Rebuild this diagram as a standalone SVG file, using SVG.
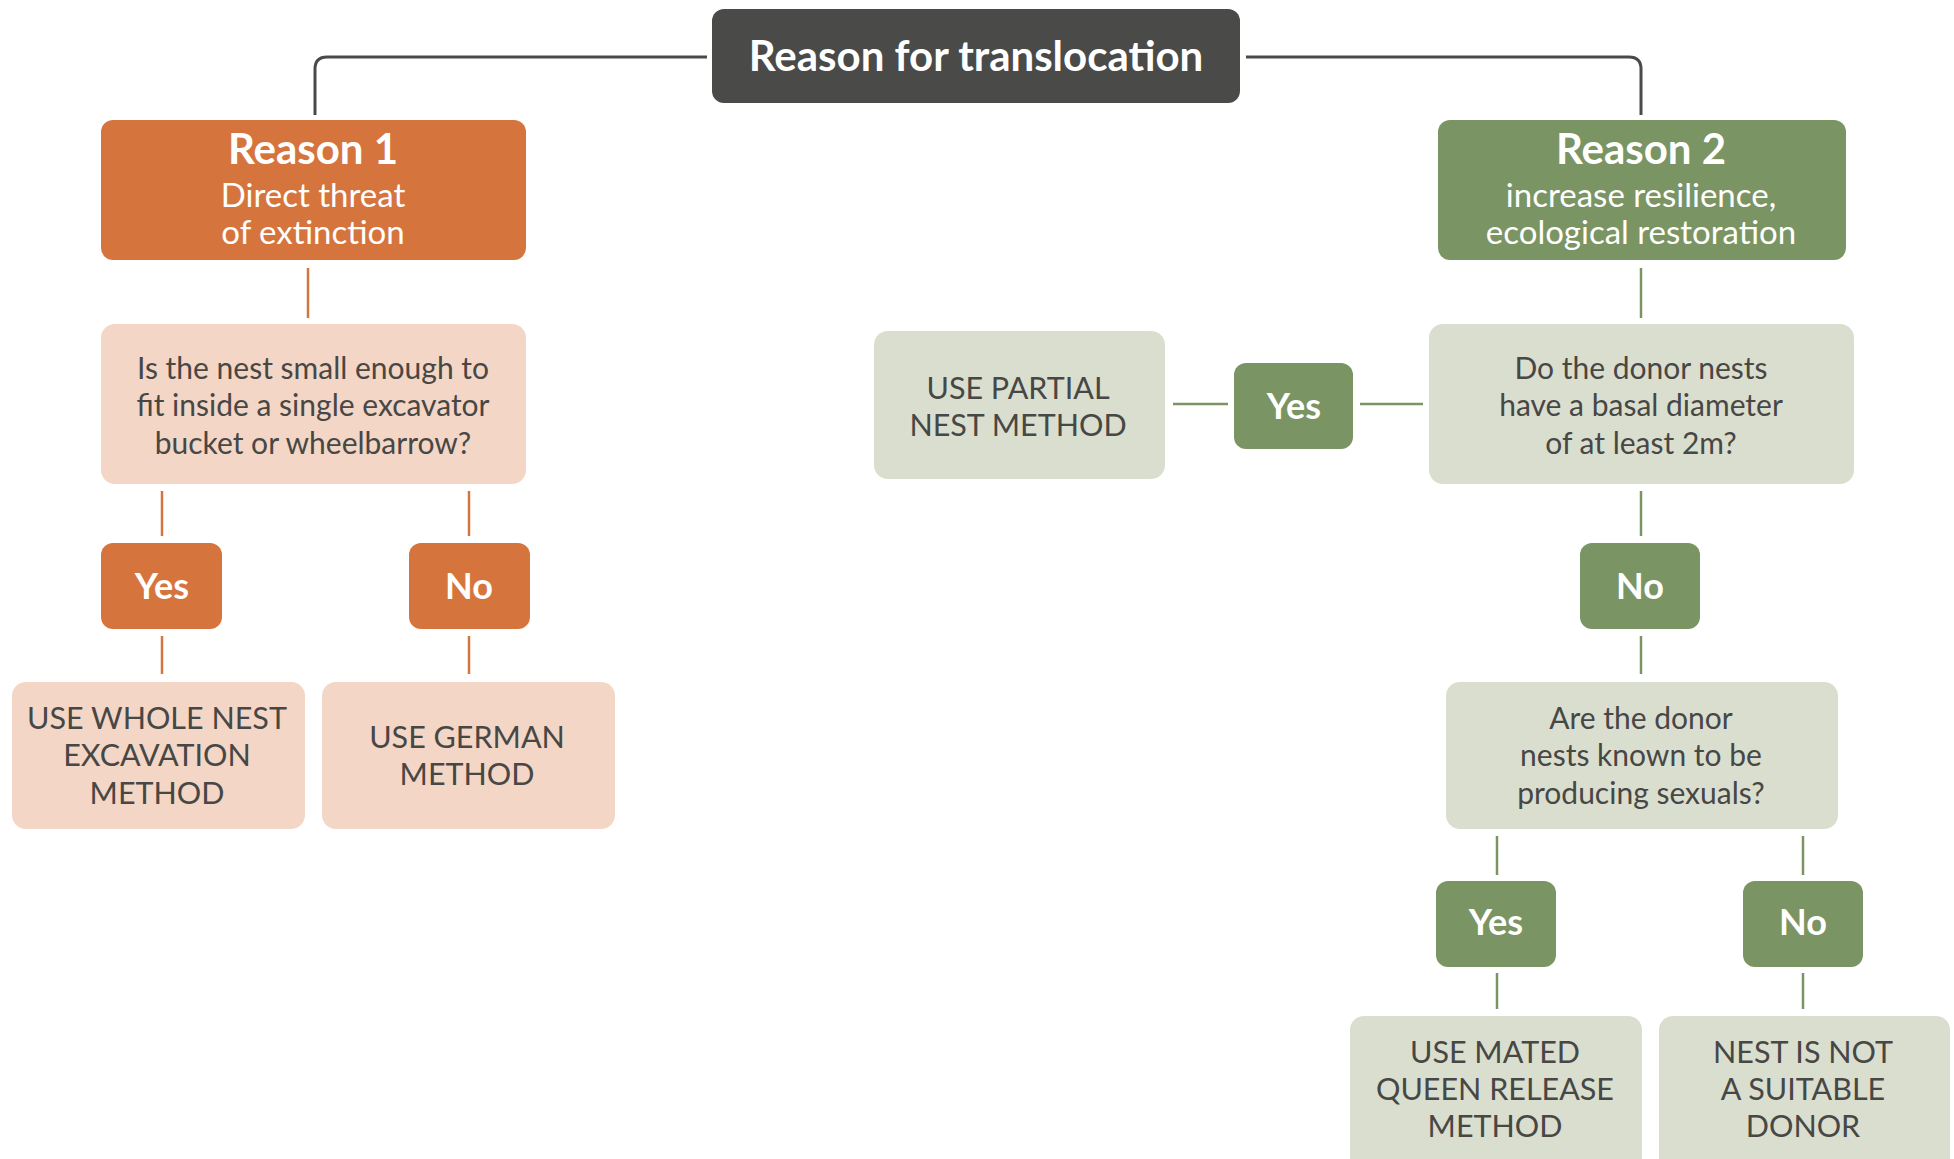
<svg xmlns="http://www.w3.org/2000/svg" width="1954" height="1159" viewBox="0 0 1954 1159">
<style>
text{font-family:Lato,"Open Sans","Liberation Sans",sans-serif;text-anchor:middle}
.w{fill:#ffffff}
.d{fill:#474745}
.b{font-weight:bold}
.root{fill:#4a4a48}
.or{fill:#d6743e}
.lo{fill:#f3d6c5}
.gr{fill:#7b9463}
.lg{fill:#dadecf}
.cd{stroke:#4a4a48;stroke-width:3;fill:none}
.co{stroke:#d6743e;stroke-width:2.5;fill:none}
.cg{stroke:#7b9463;stroke-width:2.5;fill:none}
.t1{font-size:42px}
.t2{font-size:42px}
.t3{font-size:33px}
.q{font-size:30px}
.u{font-size:30.5px}
.y{font-size:36px}
</style>
<g id="connectors">
<path class="cd" d="M707,57 H327 Q315,57 315,69 V115"/>
<path class="cd" d="M1246,57 H1629 Q1641,57 1641,69 V115"/>
<path class="co" d="M308,268 V318"/>
<path class="co" d="M162,491 V536"/>
<path class="co" d="M469,491 V536"/>
<path class="co" d="M162,636 V674"/>
<path class="co" d="M469,636 V674"/>
<path class="cg" d="M1641,268 V318"/>
<path class="cg" d="M1360,404 H1423"/>
<path class="cg" d="M1173,404 H1228"/>
<path class="cg" d="M1641,491 V536"/>
<path class="cg" d="M1641,636 V674"/>
<path class="cg" d="M1497,836 V875"/>
<path class="cg" d="M1803,836 V875"/>
<path class="cg" d="M1497,973 V1009"/>
<path class="cg" d="M1803,973 V1009"/>
</g>
<g id="root">
<rect class="root" x="712" y="9" width="528" height="94" rx="12"/>
<text class="w b t1" x="976" y="71">Reason for translocation</text>
</g>
<g id="reason1">
<rect class="or" x="101" y="120" width="425" height="140" rx="12"/>
<text class="w b t2" x="313" y="164">Reason 1</text>
<text class="w t3" x="313" y="207">Direct threat</text>
<text class="w t3" x="313" y="244">of extinction</text>
</g>
<g id="reason2">
<rect class="gr" x="1438" y="120" width="408" height="140" rx="12"/>
<text class="w b t2" x="1641" y="164">Reason 2</text>
<text class="w t3" x="1641" y="207">increase resilience,</text>
<text class="w t3" x="1641" y="244">ecological restoration</text>
</g>
<g id="q1">
<rect class="lo" x="101" y="324" width="425" height="160" rx="14"/>
<text class="d q" x="313" y="379">Is the nest small enough to</text>
<text class="d q" x="313" y="416">fit inside a single excavator</text>
<text class="d q" x="313" y="454">bucket or wheelbarrow?</text>
</g>
<g id="q1yes">
<rect class="or" x="101" y="543" width="121" height="86" rx="12"/>
<text class="w b y" x="162" y="599">Yes</text>
</g>
<g id="q1no">
<rect class="or" x="409" y="543" width="121" height="86" rx="12"/>
<text class="w b y" x="469" y="599">No</text>
</g>
<g id="wholenest">
<rect class="lo" x="12" y="682" width="293" height="147" rx="14"/>
<text class="d u" x="157" y="729">USE WHOLE NEST</text>
<text class="d u" x="157" y="766">EXCAVATION</text>
<text class="d u" x="157" y="804">METHOD</text>
</g>
<g id="german">
<rect class="lo" x="322" y="682" width="293" height="147" rx="14"/>
<text class="d u" x="467" y="748">USE GERMAN</text>
<text class="d u" x="467" y="785">METHOD</text>
</g>
<g id="q2">
<rect class="lg" x="1429" y="324" width="425" height="160" rx="14"/>
<text class="d q" x="1641" y="379">Do the donor nests</text>
<text class="d q" x="1641" y="416">have a basal diameter</text>
<text class="d q" x="1641" y="454">of at least 2m?</text>
</g>
<g id="q2yes">
<rect class="gr" x="1234" y="363" width="119" height="86" rx="12"/>
<text class="w b y" x="1294" y="419">Yes</text>
</g>
<g id="partial">
<rect class="lg" x="874" y="331" width="291" height="148" rx="14"/>
<text class="d u" x="1018" y="399">USE PARTIAL</text>
<text class="d u" x="1018" y="436">NEST METHOD</text>
</g>
<g id="q2no">
<rect class="gr" x="1580" y="543" width="120" height="86" rx="12"/>
<text class="w b y" x="1640" y="599">No</text>
</g>
<g id="q3">
<rect class="lg" x="1446" y="682" width="392" height="147" rx="14"/>
<text class="d q" x="1641" y="729">Are the donor</text>
<text class="d q" x="1641" y="766">nests known to be</text>
<text class="d q" x="1641" y="804">producing sexuals?</text>
</g>
<g id="q3yes">
<rect class="gr" x="1436" y="881" width="120" height="86" rx="12"/>
<text class="w b y" x="1496" y="935">Yes</text>
</g>
<g id="q3no">
<rect class="gr" x="1743" y="881" width="120" height="86" rx="12"/>
<text class="w b y" x="1803" y="935">No</text>
</g>
<g id="mated">
<rect class="lg" x="1350" y="1016" width="292" height="170" rx="14"/>
<text class="d u" x="1495" y="1063">USE MATED</text>
<text class="d u" x="1495" y="1100">QUEEN RELEASE</text>
<text class="d u" x="1495" y="1137">METHOD</text>
</g>
<g id="notsuitable">
<rect class="lg" x="1659" y="1016" width="291" height="170" rx="14"/>
<text class="d u" x="1803" y="1063">NEST IS NOT</text>
<text class="d u" x="1803" y="1100">A SUITABLE</text>
<text class="d u" x="1803" y="1137">DONOR</text>
</g>
</svg>
